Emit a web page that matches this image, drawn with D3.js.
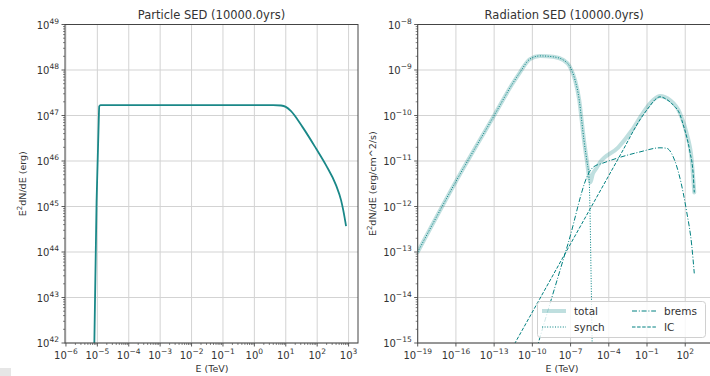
<!DOCTYPE html>
<html lang="en">
<head>
  <meta charset="utf-8">
  <title>SED</title>
  <script src="https://cdn.jsdelivr.net/npm/d3@7"></script>
  <style>
    body { margin: 0; background: #fff; }
    svg { font-family: "DejaVu Sans", sans-serif; }
  </style>
</head>
<body>
  <svg id="chart" width="710" height="376"></svg>
  <script>
    // ---- data (log10 values) ----
    var particleLogE   = [-5.16, -5.10, -5.025, -4.955, -4.94, -4.9, 0.0, 0.6, 0.85, 1.0, 1.16, 1.53, 1.96, 2.28, 2.60, 2.76, 2.83, 2.92];
    var particleLogSED = [40.0, 41.8, 45.1, 46.9, 47.2, 47.23, 47.23, 47.23, 47.22, 47.19, 47.10, 46.75, 46.28, 45.91, 45.47, 45.14, 44.92, 44.57];

    var totalLogE   = [-19, -16, -13, -11.6, -10.97, -10.19, -9.4, -8.36, -7.57, -7.05, -6.65, -6.32, -6.13, -5.95, -5.73, -5.55, -5.45, -5.25, -5.0, -4.69, -3.25, -2.2, -1.29, -0.51, 0.02, 0.8, 1.59, 2.11, 2.51, 2.71];
    var totalLogSED = [-13.0, -11.45, -10.0, -9.32, -9.05, -8.76, -8.69, -8.71, -8.78, -8.93, -9.22, -9.66, -10.10, -10.54, -10.98, -11.35, -11.47, -11.28, -11.17, -11.03, -10.70, -10.33, -9.93, -9.66, -9.57, -9.66, -9.95, -10.39, -10.98, -11.69];

    var synchLogE   = [-19, -16, -13, -11.6, -10.97, -10.19, -9.4, -8.36, -7.57, -7.05, -6.65, -6.32, -6.13, -5.95, -5.73, -5.55, -5.48, -5.42, -5.35, -5.28];
    var synchLogSED = [-13.0, -11.45, -10.0, -9.32, -9.05, -8.76, -8.69, -8.71, -8.78, -8.93, -9.22, -9.66, -10.10, -10.54, -10.98, -11.38, -12.0, -13.0, -14.2, -15.5];

    var bremsLogE   = [-10.1, -9.53, -7.18, -5.5, -5.2, -4.5, -3.25, -1.55, 0.02, 0.54, 1.06, 1.59, 2.11, 2.51, 2.71];
    var bremsLogSED = [-15.55, -15.0, -12.8, -11.23, -11.13, -11.05, -10.93, -10.80, -10.71, -10.72, -10.91, -11.38, -12.11, -12.85, -13.47];

    var icLogE   = [-12.0, -11.36, -6.0, -3.0, -1.5, -0.8, -0.4, 0.02, 0.5, 1.06, 1.59, 1.85, 2.1, 2.37, 2.63, 2.71];
    var icLogSED = [-15.32, -15.0, -12.32, -10.82, -10.07, -9.80, -9.66, -9.59, -9.64, -9.77, -9.98, -10.21, -10.45, -10.80, -11.31, -11.69];

    var leftXTicks  = [-6, -5, -4, -3, -2, -1, 0, 1, 2, 3];
    var leftYTicks  = [42, 43, 44, 45, 46, 47, 48, 49];
    var rightXTicks = [-19, -16, -13, -10, -7, -4, -1, 2];
    var rightYTicks = [-15, -14, -13, -12, -11, -10, -9, -8];

    var teal = "#008080";
    var svg = d3.select("#chart");

    function pts(le, lv) {
      return le.map(function (e, i) { return [Math.pow(10, e), Math.pow(10, lv[i])]; });
    }

    function supLabel(sel, exp) {
      sel.text("10");
      sel.append("tspan")
        .attr("dy", -5)
        .attr("font-size", 7.5)
        .text(exp < 0 ? "\u2212" + (-exp) : exp);
    }

    function panel(cfg) {
      var x = d3.scaleLog().domain(cfg.xDom).range([cfg.left, cfg.right]);
      var y = d3.scaleLog().domain(cfg.yDom).range([cfg.bottom, cfg.top]);
      var g = svg.append("g");

      // grid
      g.selectAll(".gx").data(cfg.xTicks).enter().append("line")
        .attr("x1", d => x(Math.pow(10, d))).attr("x2", d => x(Math.pow(10, d)))
        .attr("y1", cfg.top).attr("y2", cfg.bottom)
        .attr("stroke", "#d3d3d3").attr("stroke-width", 1);
      g.selectAll(".gy").data(cfg.yTicks).enter().append("line")
        .attr("y1", d => y(Math.pow(10, d))).attr("y2", d => y(Math.pow(10, d)))
        .attr("x1", cfg.left).attr("x2", cfg.right)
        .attr("stroke", "#d3d3d3").attr("stroke-width", 1);

      // minor ticks
      var ymin = [];
      for (var p = cfg.yTicks[0]; p < cfg.yTicks[cfg.yTicks.length - 1]; p++)
        for (var k = 2; k < 10; k++) ymin.push(k * Math.pow(10, p));
      g.selectAll(".my").data(ymin).enter().append("line")
        .attr("x1", cfg.left).attr("x2", cfg.left - 2)
        .attr("y1", d => y(d)).attr("y2", d => y(d))
        .attr("stroke", "#333").attr("stroke-width", 0.6);
      if (cfg.xMinor) {
        var xmin = [];
        for (var q = cfg.xTicks[0] - 1; q <= cfg.xTicks[cfg.xTicks.length - 1]; q++)
          for (var m = 2; m < 10; m++) {
            var v = m * Math.pow(10, q);
            if (v >= cfg.xDom[0] && v <= cfg.xDom[1]) xmin.push(v);
          }
        g.selectAll(".mx").data(xmin).enter().append("line")
          .attr("y1", cfg.bottom).attr("y2", cfg.bottom + 2)
          .attr("x1", d => x(d)).attr("x2", d => x(d))
          .attr("stroke", "#333").attr("stroke-width", 0.6);
      }

      // major ticks + labels
      g.selectAll(".tx").data(cfg.xTicks).enter().append("line")
        .attr("x1", d => x(Math.pow(10, d))).attr("x2", d => x(Math.pow(10, d)))
        .attr("y1", cfg.bottom).attr("y2", cfg.bottom + 3.5)
        .attr("stroke", "#333").attr("stroke-width", 0.8);
      g.selectAll(".lx").data(cfg.xTicks).enter().append("text")
        .attr("x", d => x(Math.pow(10, d)))
        .attr("y", cfg.bottom + 16)
        .attr("text-anchor", "middle").attr("font-size", 10).attr("fill", "#333")
        .each(function (d) { supLabel(d3.select(this), d); });
      g.selectAll(".ty").data(cfg.yTicks).enter().append("line")
        .attr("y1", d => y(Math.pow(10, d))).attr("y2", d => y(Math.pow(10, d)))
        .attr("x1", cfg.left).attr("x2", cfg.left - 3.5)
        .attr("stroke", "#333").attr("stroke-width", 0.8);
      g.selectAll(".ly").data(cfg.yTicks).enter().append("text")
        .attr("x", cfg.left - 6)
        .attr("y", d => y(Math.pow(10, d)) + 4)
        .attr("text-anchor", "end").attr("font-size", 10).attr("fill", "#333")
        .each(function (d) { supLabel(d3.select(this), d); });

      // clip
      svg.append("clipPath").attr("id", cfg.id)
        .append("rect").attr("x", cfg.left).attr("y", cfg.top)
        .attr("width", cfg.right - cfg.left).attr("height", cfg.bottom - cfg.top);
      var plot = g.append("g").attr("clip-path", "url(#" + cfg.id + ")");

      var line = d3.line().x(d => x(d[0])).y(d => y(d[1])).curve(d3.curveMonotoneX);
      cfg.series.forEach(function (s) {
        plot.append("path")
          .attr("d", line(s.data))
          .attr("fill", "none")
          .attr("stroke", s.color || teal)
          .attr("stroke-opacity", s.opacity || 1)
          .attr("stroke-width", s.width)
          .attr("stroke-dasharray", s.dash || null)
          .attr("stroke-linejoin", "round")
          .attr("stroke-linecap", s.cap || "butt");
      });

      // frame
      g.append("rect").attr("x", cfg.left).attr("y", cfg.top)
        .attr("width", cfg.right - cfg.left).attr("height", cfg.bottom - cfg.top)
        .attr("fill", "none").attr("stroke", "#444").attr("stroke-width", 1);

      // titles
      g.append("text").attr("x", (cfg.left + cfg.right) / 2).attr("y", 19)
        .attr("text-anchor", "middle").attr("font-size", 11.5).attr("fill", "#333")
        .text(cfg.title);
      g.append("text").attr("x", cfg.xLabelX).attr("y", 372)
        .attr("text-anchor", "middle").attr("font-size", 9.5).attr("fill", "#333")
        .text("E (TeV)");
      var yl = g.append("text")
        .attr("transform", "translate(" + cfg.yLabelX + "," + (cfg.top + cfg.bottom) / 2 + ") rotate(-90)")
        .attr("text-anchor", "middle").attr("font-size", 9.5).attr("fill", "#333");
      yl.append("tspan").text("E");
      yl.append("tspan").attr("dy", -4).attr("font-size", 7).text("2");
      yl.append("tspan").attr("dy", 4).text("dN/dE " + cfg.unit);
      return { x: x, y: y, g: g };
    }

    panel({
      id: "clipL", left: 65, right: 358, top: 24.5, bottom: 343,
      xDom: [Math.pow(10, -6.03), Math.pow(10, 3.3)], yDom: [1e42, 1e49],
      xTicks: leftXTicks, yTicks: leftYTicks, xMinor: true,
      title: "Particle SED (10000.0yrs)", xLabelX: 212, yLabelX: 26, unit: "(erg)",
      series: [{ data: pts(particleLogE, particleLogSED), width: 1.8, color: "#1a8888" }]
    });

    panel({
      id: "clipR", left: 417.7, right: 710.7, top: 24.5, bottom: 343,
      xDom: [1e-19, 1e4], yDom: [1e-15, 1e-8],
      xTicks: rightXTicks, yTicks: rightYTicks, xMinor: false,
      title: "Radiation SED (10000.0yrs)", xLabelX: 562, yLabelX: 376, unit: "(erg/cm^2/s)",
      series: [
        { data: pts(totalLogE, totalLogSED), width: 4, opacity: 0.25, cap: "round" },
        { data: pts(synchLogE, synchLogSED), width: 1, dash: "1,1.6" },
        { data: pts(bremsLogE, bremsLogSED), width: 1, dash: "5,1.8,1,1.8" },
        { data: pts(icLogE, icLogSED), width: 1, dash: "3.5,1.6" }
      ]
    });

    // legend
    var legend = svg.append("g");
    legend.append("rect").attr("x", 537.5).attr("y", 301.5).attr("width", 168).attr("height", 36)
      .attr("rx", 3).attr("fill", "#fff").attr("fill-opacity", 0.8)
      .attr("stroke", "#d0d0d0").attr("stroke-width", 1);
    var legendItems = [
      { name: "total", x: 542, y: 311, width: 4, opacity: 0.25 },
      { name: "synch", x: 542, y: 327, width: 1, dash: "1,1.6" },
      { name: "brems", x: 632, y: 311, width: 1, dash: "5,1.8,1,1.8" },
      { name: "IC", x: 632, y: 327, width: 1, dash: "3.5,1.6" }
    ];
    legendItems.forEach(function (d) {
      legend.append("line").attr("x1", d.x).attr("x2", d.x + 24).attr("y1", d.y).attr("y2", d.y)
        .attr("stroke", teal).attr("stroke-width", d.width)
        .attr("stroke-opacity", d.opacity || 1).attr("stroke-dasharray", d.dash || null);
      legend.append("text").attr("x", d.x + 32).attr("y", d.y + 4)
        .attr("font-size", 10.5).attr("fill", "#333").text(d.name);
    });

    // stray corner patch in the reference
    svg.append("rect").attr("x", 0).attr("y", 368).attr("width", 11).attr("height", 8).attr("fill", "#e6e6e6");
  </script>
</body>
</html>
